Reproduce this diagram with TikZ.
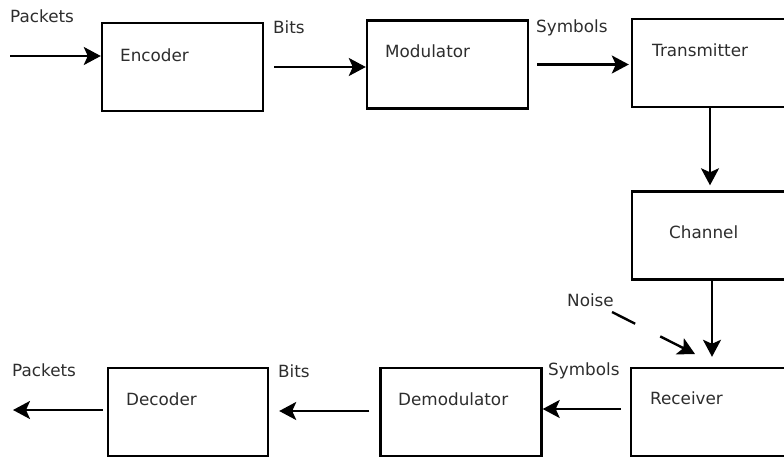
\documentclass[tikz,border=0pt]{standalone}
\usepackage{fontspec}
\setmainfont{DejaVu Sans}
\usetikzlibrary{arrows.meta, positioning}
\definecolor{LabelGray}{RGB}{45, 45, 45}

\begin{document}
\begin{tikzpicture}[
    x=1pt, y=-1pt,
    block/.style={rectangle, draw=black, line width=2.4pt, fill=white,
                  minimum width=161pt, minimum height=88pt, inner sep=0pt},
    wideblock/.style={block, minimum width=160pt},
    lbl/.style={anchor=base west, inner sep=0pt, text=LabelGray,
                font=\fontsize{16.8}{20}\selectfont},
    arrow/.style={-{Stealth[length=17pt, width=18pt, inset=4pt]}, line width=2.4pt}
]
\clip (0,0) rectangle (784,458);

% Transmit chain
\node[block] (enc) at (182.5,67) {};
\node[block] (mod) at (447.5,64.5) {};
\node[wideblock] (tx) at (712,63) {};
\node[lbl] (enctxt) at (120,61.7) {Encoder};
\node[lbl] (modtxt) at (385,57) {Modulator};
\node[lbl] (txtxt) at (652,56) {Transmitter};

% Channel
\node[wideblock] (chan) at (712,235.5) {};
\node[lbl] (chantxt) at (669,238) {Channel};

% Receive chain
\node[wideblock] (rx) at (711,412) {};
\node[block] (demod) at (461,412) {};
\node[block, minimum width=160pt] (dec) at (188,412) {};
\node[lbl] (rxtxt) at (650,404) {Receiver};
\node[lbl] (demodtxt) at (398,405) {Demodulator};
\node[lbl] (dectxt) at (126,405) {Decoder};

% Signal labels
\node[lbl] (pktin) at (10,22.5) {Packets};
\node[lbl] (bitsin) at (273,33.5) {Bits};
\node[lbl] (symin) at (536,32) {Symbols};
\node[lbl] (noise) at (567,306) {Noise};
\node[lbl] (symout) at (548,375.7) {Symbols};
\node[lbl] (bitsout) at (278,377.7) {Bits};
\node[lbl] (pktout) at (12,376.7) {Packets};

\coordinate (src) at (10,56);
\coordinate (sink) at (13,410);
\coordinate (noisesrc) at (612,312);
\coordinate (noisedst) at (695,354);

% Arrows
\draw[arrow] (src) -- (src -| enc.west);
\draw[arrow, shorten <=10pt] (enc.east) -- (enc.east -| mod.west);
\draw[arrow, shorten <=8pt, shorten >=2pt] (mod.east) -- (mod.east -| tx.west);
\draw[arrow, shorten >=5pt] ([xshift=-2pt]tx.south) -- ([xshift=-2pt]chan.north);
\draw[arrow, shorten >=10pt] (chan.south) -- (chan.south |- rx.north);
\draw[arrow, dash pattern=on 26pt off 28pt on 200pt] (noisesrc) -- (noisedst);
\draw[arrow, shorten <=9pt] ([yshift=3pt]rx.west) -- ([yshift=3pt]demod.east);
\draw[arrow, shorten <=10pt, shorten >=10pt] ([yshift=1pt]demod.west) -- ([yshift=1pt]dec.east);
\draw[arrow, shorten <=4pt] (dec.west |- sink) -- (sink);

\end{tikzpicture}
\end{document}
